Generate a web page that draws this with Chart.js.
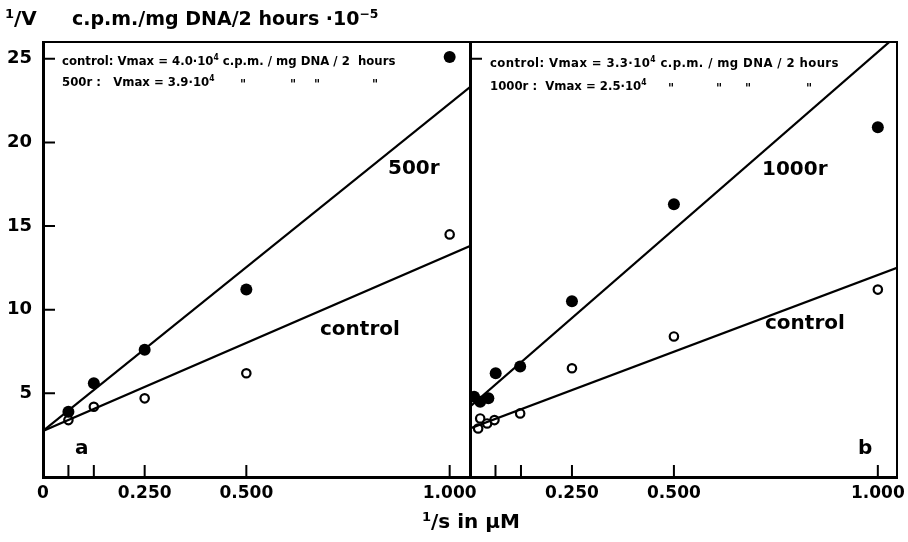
<!DOCTYPE html>
<html>
<head>
<meta charset="utf-8">
<script src="https://cdn.jsdelivr.net/npm/chart.js@4/dist/chart.umd.min.js"></script>
<style>
  body { margin: 0; background: #fff; }
  #wrap { position: relative; width: 908px; height: 542px; overflow: hidden; font-family: "DejaVu Sans", sans-serif; color: #000; }
  canvas { position: absolute; top: 0; }
  .t { position: absolute; white-space: pre; line-height: 1; }
  .big { font-size: 20px; font-weight: bold; }
  .ann { font-family: "DejaVu Sans Condensed", "DejaVu Sans", sans-serif; font-weight: bold; font-size: 13px; }
  sup { font-size: 65%; vertical-align: 0; position: relative; top: -0.55em; }
</style>
</head>
<body>
<div id="wrap">
  <canvas id="chartA" width="510" height="542" style="left:0"></canvas>
  <canvas id="chartB" width="490" height="542" style="left:460px"></canvas>

  <div class="t" style="left:5px;top:8px;font-size:20px;font-weight:bold"><sup>1</sup>/V</div>
  <div class="t" style="left:72px;top:9px;font-size:19px;font-weight:bold">c.p.m./mg DNA/2 hours ·10<sup>−5</sup></div>

  <div class="t ann" style="left:62px;top:54px">control: Vmax = 4.0·10<sup>4</sup> c.p.m. / mg DNA / 2  hours</div>
  <div class="t ann" style="left:62px;top:75px">500r :   Vmax = 3.9·10<sup>4</sup></div>
  <div class="t ann" style="left:240px;top:77px">"</div>
  <div class="t ann" style="left:290px;top:77px">"</div>
  <div class="t ann" style="left:314px;top:77px">"</div>
  <div class="t ann" style="left:372px;top:77px">"</div>
  <div class="t ann" style="left:490px;top:56px;letter-spacing:0.4px">control: Vmax = 3.3·10<sup>4</sup> c.p.m. / mg DNA / 2 hours</div>
  <div class="t ann" style="left:490px;top:79px">1000r :  Vmax = 2.5·10<sup>4</sup></div>
  <div class="t ann" style="left:668px;top:81px">"</div>
  <div class="t ann" style="left:716px;top:81px">"</div>
  <div class="t ann" style="left:745px;top:81px">"</div>
  <div class="t ann" style="left:806px;top:81px">"</div>

  <div class="t big" style="left:388px;top:157px">500r</div>
  <div class="t big" style="left:320px;top:318px">control</div>
  <div class="t big" style="left:762px;top:158px">1000r</div>
  <div class="t big" style="left:765px;top:312px">control</div>
  <div class="t big" style="left:75px;top:437px">a</div>
  <div class="t big" style="left:858px;top:437px">b</div>
  <div class="t" style="left:422px;top:511px;font-size:20px;font-weight:bold"><sup>1</sup>/s in μM</div>
</div>
<script>
// panel a
const sA = [0.0625, 0.125, 0.25, 0.5, 1.0];
const controlA = [3.4, 4.2, 4.7, 6.2, 14.5];
const irr500 = [3.9, 5.6, 7.6, 11.2, 25.1];
const fitXA = [0, 1.05];
const fitControlA = [2.75, 13.8];
const fit500 = [2.75, 23.3];

// panel b
const sBirr = [0.01, 0.025, 0.045, 0.063, 0.123, 0.25, 0.5, 1.0];
const irr1000 = [4.8, 4.5, 4.7, 6.2, 6.6, 10.5, 16.3, 20.9];
const sBcontrol = [0.02, 0.025, 0.042, 0.06, 0.123, 0.25, 0.5, 1.0];
const controlB = [2.9, 3.5, 3.2, 3.4, 3.8, 6.5, 8.4, 11.2];
const fitXB = [0, 1.047];
const fitControlB = [2.9, 12.5];
const fit1000 = [4.2, 26.4];

// ticks
const xTicksA = [0, 0.0625, 0.125, 0.25, 0.5, 1.0];
const xLabelsA = {0: '0', 0.25: '0.250', 0.5: '0.500', 1: '1.000'};
const xTicksB = [0.0625, 0.125, 0.25, 0.5, 1.0];
const xLabelsB = {0.25: '0.250', 0.5: '0.500', 1: '1.000'};
const yTicks = [5, 10, 15, 20, 25];

function pts(xs, ys) {
    return xs.map((x, i) => ({x: x, y: ys[i]}));
}

// short ticks pointing into the plot, plus top and right frame
const frame = {
    id: 'frame',
    afterDraw(chart, args, opts) {
        const ctx = chart.ctx;
        const a = chart.chartArea;
        ctx.save();
        ctx.strokeStyle = '#000';
        ctx.lineWidth = 2;
        ctx.beginPath();
        ctx.moveTo(a.left, a.top);
        ctx.lineTo(a.right, a.top);
        ctx.lineTo(a.right, a.bottom);
        ctx.stroke();
        ctx.beginPath();
        chart.scales.x.ticks.forEach(t => {
            const px = chart.scales.x.getPixelForValue(t.value);
            ctx.moveTo(px, a.bottom);
            ctx.lineTo(px, a.bottom - 12);
        });
        opts.yMarks.forEach(v => {
            const py = chart.scales.y.getPixelForValue(v);
            ctx.moveTo(a.left, py);
            ctx.lineTo(a.left + 12, py);
        });
        ctx.stroke();
        ctx.restore();
    }
};

function makeChart(id, sets, xTicks, xLabels, yMarks, showY, padR, yWidth, xMax) {
    return new Chart(document.getElementById(id), {
        type: 'scatter',
        data: { datasets: sets },
        options: {
            responsive: false,
            animation: false,
            events: [],
            layout: { padding: { left: 0, right: padR, top: 42, bottom: 0 } },
            plugins: {
                legend: { display: false },
                tooltip: { enabled: false },
                frame: { yMarks: yMarks }
            },
            scales: {
                x: {
                    type: 'linear', min: 0, max: xMax,
                    grid: { display: false, drawTicks: false },
                    border: { display: true, width: 3, color: '#000' },
                    afterBuildTicks: s => { s.ticks = xTicks.map(v => ({value: v})); },
                    afterFit: s => { s.height = 65; },
                    ticks: {
                        padding: 6, color: '#000', maxRotation: 0, autoSkip: false,
                        font: { family: 'DejaVu Sans', size: 17, weight: 'bold' },
                        callback: v => xLabels[v] !== undefined ? xLabels[v] : ''
                    }
                },
                y: {
                    type: 'linear', min: 0, max: 26,
                    grid: { display: false, drawTicks: false },
                    border: { display: true, width: 3, color: '#000' },
                    afterBuildTicks: s => { s.ticks = yTicks.map(v => ({value: v})); },
                    afterFit: s => { s.width = yWidth; },
                    ticks: {
                        display: showY, padding: 11, color: '#000',
                        font: { family: 'DejaVu Sans', size: 18, weight: 'bold' }
                    }
                }
            }
        },
        plugins: [frame]
    });
}

function fitLine(xs, ys) {
    return { data: pts(xs, ys), showLine: true, borderColor: '#000', borderWidth: 2.2, pointRadius: 0 };
}
function filled(xs, ys) {
    return { data: pts(xs, ys), showLine: false, pointRadius: 6, backgroundColor: '#000', borderColor: '#000', borderWidth: 0 };
}
function open(xs, ys) {
    return { data: pts(xs, ys), showLine: false, pointRadius: 4.2, backgroundColor: '#fff', borderColor: '#000', borderWidth: 2.2 };
}

// canvas A: 0..510, plot right edge at 470; canvas B: 460..950, plot 470..897
makeChart('chartA', [
    fitLine(fitXA, fitControlA),
    fitLine(fitXA, fit500),
    filled(sA, irr500),
    open(sA, controlA)
], xTicksA, xLabelsA, yTicks, true, 40, 43, 1.05);

makeChart('chartB', [
    fitLine(fitXB, fitControlB),
    fitLine(fitXB, fit1000),
    filled(sBirr, irr1000),
    open(sBcontrol, controlB)
], xTicksB, xLabelsB, [25], false, 53, 10, 1.047);
</script>
</body>
</html>
